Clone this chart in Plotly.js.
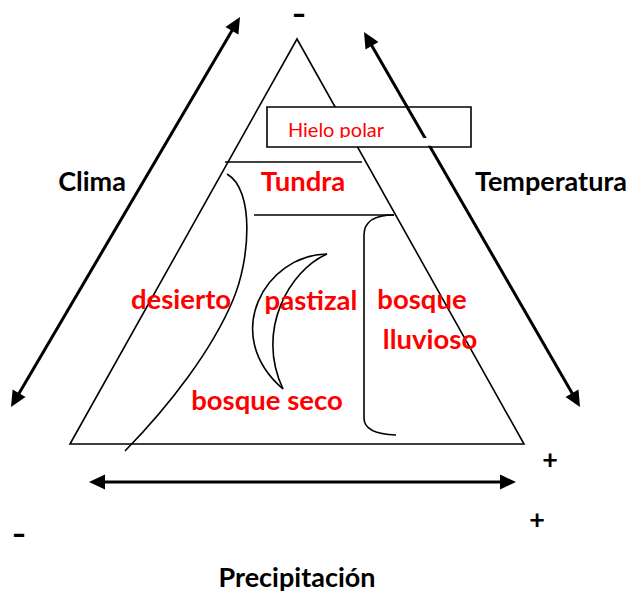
<!DOCTYPE html>
<html><head><meta charset="utf-8">
<script src="https://cdn.plot.ly/plotly-3.0.1.min.js"></script>
<style>html,body{margin:0;padding:0;background:#fff}#chart{width:634px;height:595px}</style>
</head><body><div id="chart"></div>
<script>
// ---- text content ----
const biomeLabels = ["Tundra", "desierto", "pastizal", "bosque", "lluvioso", "bosque seco"];
const axisLabels = ["Clima", "Temperatura", "Precipitación"];
const plusLabels = ["+", "+"];
const minusLabels = ["–", "–"];
const boxLabel = ["Hielo polar"];

// ---- diagram geometry (page pixel coordinates) ----
const biomeX = [303, 181, 311, 422, 430, 267];
const biomeY = [184, 302, 303, 302, 342, 403];
const axisX = [92, 551, 297];
const axisY = [184, 184, 580];
const plusX = [550, 537];
const plusY = [462, 522];
const minusX = [299, 19];
const minusY = [16, 536];
const boxX = [336];
const boxY = [132];

const triangleX = [70, 297, 524];
const triangleY = [444, 39, 444];
const tundraLine = [[225, 162], [362, 162]];
const forestLine = [[254, 215], [394, 215]];
const polarBox = [[267, 107], [471, 147]];
const desertCurve = [[227,174],[255,190],[250,260],[233,300],[212,350],[170,405],[125,451]];
const grassOuter = [[327,254],[265,255],[220,335],[283,389]];
const grassInner = [[327,254],[290,270],[255,330],[283,389]];
const rainBracket = [[394,215],[364,215],[364,235],[364,418],[364,434],[396,435]];
const arrows = [
  [[11,407],[240,17]],
  [[364,32],[580,407]],
  [[89,482],[516,482]]
];

// ---- build shapes ----
const shapes = [];
const thin = {color: '#000', width: 1.6};
const p = pt => pt[0] + ',' + pt[1];
shapes.push({type:'path', layer:'below', xref:'x', yref:'y',
  path: 'M' + triangleX.map((x,i)=>x+','+triangleY[i]).join(' L') + ' Z', line: thin});
[tundraLine, forestLine].forEach(l => shapes.push({type:'line', layer:'below', xref:'x', yref:'y',
  x0:l[0][0], y0:l[0][1], x1:l[1][0], y1:l[1][1], line: thin}));
shapes.push({type:'path', layer:'below', xref:'x', yref:'y', line: thin,
  path: 'M' + p(desertCurve[0]) + ' C' + [1,2,3].map(i=>p(desertCurve[i])).join(' ') +
        ' C' + [4,5,6].map(i=>p(desertCurve[i])).join(' ')});
[grassOuter, grassInner].forEach(c => shapes.push({type:'path', layer:'below', xref:'x', yref:'y', line: thin,
  path: 'M' + p(c[0]) + ' C' + [1,2,3].map(i=>p(c[i])).join(' ')}));
const b = rainBracket;
shapes.push({type:'path', layer:'below', xref:'x', yref:'y', line: thin,
  path: 'M' + p(b[0]) + ' Q' + p(b[1]) + ' ' + p(b[2]) + ' L' + p(b[3]) + ' Q' + p(b[4]) + ' ' + p(b[5])});
shapes.push({type:'rect', layer:'below', xref:'x', yref:'y',
  x0: polarBox[0][0], y0: polarBox[0][1], x1: polarBox[1][0], y1: polarBox[1][1],
  fillcolor:'#fff', line: thin});
// clip of the box text (text box cut at bottom in the original)
shapes.push({type:'rect', layer:'above', xref:'x', yref:'y',
  x0: polarBox[0][0] + 1.5, y0: 138, x1: polarBox[1][0] - 1.5, y1: polarBox[1][1] - 1.2,
  fillcolor:'#fff', line:{width:0}});

const headLen = 16, headHalf = 7.5;
arrows.forEach(a => {
  const [A, B] = a;
  const dx = B[0]-A[0], dy = B[1]-A[1], L = Math.hypot(dx, dy);
  const ux = dx/L, uy = dy/L, nx = -uy, ny = ux;
  const A2 = [A[0]+ux*(headLen-2), A[1]+uy*(headLen-2)];
  const B2 = [B[0]-ux*(headLen-2), B[1]-uy*(headLen-2)];
  shapes.push({type:'line', layer:'below', xref:'x', yref:'y', x0:A2[0], y0:A2[1], x1:B2[0], y1:B2[1],
    line:{color:'#000', width:3}});
  [[A, 1], [B, -1]].forEach(([T, s]) => {
    const bx = T[0] + s*ux*headLen, by = T[1] + s*uy*headLen;
    shapes.push({type:'path', layer:'below', xref:'x', yref:'y', fillcolor:'#000', line:{width:0},
      path: 'M' + T[0] + ',' + T[1] + ' L' + (bx+nx*headHalf) + ',' + (by+ny*headHalf) +
            ' L' + (bx-nx*headHalf) + ',' + (by-ny*headHalf) + ' Z'});
  });
});

const FONT = 'Lato, "Open Sans", sans-serif';
const data = [
  {type:'scatter', mode:'text', x: biomeX, y: biomeY, text: biomeLabels, textposition:'middle center',
   textfont:{family: FONT, size: 27.5, color:'#ff0000', weight: 'bold'}, hoverinfo:'skip', cliponaxis:false},
  {type:'scatter', mode:'text', x: axisX, y: axisY, text: axisLabels, textposition:'middle center',
   textfont:{family: FONT, size: 27, color:'#000', weight: 'bold'}, hoverinfo:'skip', cliponaxis:false},
  {type:'scatter', mode:'text', x: plusX, y: plusY, text: plusLabels, textposition:'middle center',
   textfont:{family: FONT, size: 27, color:'#000', weight: 'bold'}, hoverinfo:'skip', cliponaxis:false},
  {type:'scatter', mode:'text', x: minusX, y: minusY, text: minusLabels, textposition:'middle center',
   textfont:{family: '"DejaVu Sans", sans-serif', size: 26, color:'#000', weight: 'bold'}, hoverinfo:'skip', cliponaxis:false},
  {type:'scatter', mode:'text', x: boxX, y: boxY, text: boxLabel, textposition:'middle center',
   textfont:{family: FONT, size: 20, color:'#ff0000'}, hoverinfo:'skip', cliponaxis:false}
];

const layout = {
  width: 634, height: 595,
  margin: {l:0, r:0, t:0, b:0},
  paper_bgcolor: '#fff', plot_bgcolor: '#fff',
  showlegend: false,
  xaxis: {range:[0,634], visible:false, fixedrange:true},
  yaxis: {range:[595,0], visible:false, fixedrange:true},
  shapes: shapes
};
Plotly.newPlot('chart', data, layout, {staticPlot:true, displayModeBar:false});
</script>
</body></html>
